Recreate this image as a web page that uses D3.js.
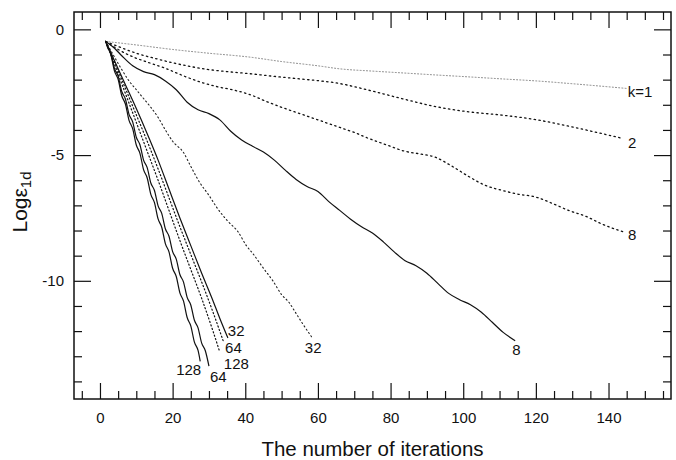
<!DOCTYPE html>
<html>
<head>
<meta charset="utf-8">
<script src="https://cdn.jsdelivr.net/npm/d3@7"></script>
<style>
  html, body { margin: 0; padding: 0; background: #fff; }
  svg { display: block; font-family: 'Liberation Sans', Arial, Helvetica, sans-serif; }
</style>
</head>
<body>
<svg id="chart" width="676" height="460"></svg>
<script>
// ---------------- data ----------------
const xMajorTicks = [0, 20, 40, 60, 80, 100, 120, 140];
const yMajorTicks = [0, -5, -10];

// dotted curves
const k1X = [1.6, 10, 20, 30, 41, 50, 60, 66, 75, 83, 92, 101.5, 110.6, 120, 129, 138, 145];
const k1Y = [-0.48, -0.62, -0.8, -0.95, -1.1, -1.28, -1.45, -1.57, -1.66, -1.73, -1.81, -1.89, -1.97, -2.05, -2.15, -2.26, -2.35];

const k2X = [1.6, 5, 10, 15, 20, 25, 30, 35, 41, 48, 55, 60, 65, 74, 83, 92, 101.5, 110.6, 120, 129, 138, 144];
const k2Y = [-0.48, -0.68, -0.95, -1.15, -1.33, -1.48, -1.6, -1.68, -1.76, -1.87, -1.97, -2.04, -2.13, -2.42, -2.75, -3.06, -3.28, -3.41, -3.59, -3.85, -4.14, -4.34];

const k8dX = [1.6, 5, 9, 14, 18, 23, 27.5, 32, 37, 41, 46, 50, 55, 60, 66, 70, 74, 79, 84, 88, 92, 97, 101.5, 106, 110.6, 115, 120, 125, 129, 134, 138, 144];
const k8dY = [-0.48, -0.8, -1.09, -1.35, -1.55, -1.85, -2.09, -2.27, -2.42, -2.58, -2.88, -3.1, -3.35, -3.6, -3.9, -4.1, -4.34, -4.6, -4.85, -4.95, -5.07, -5.45, -5.85, -6.2, -6.4, -6.55, -6.67, -6.95, -7.2, -7.45, -7.73, -8.05];

const k32dX = [1.6, 4, 6, 8, 10, 12, 14, 16, 18, 20, 23, 25, 27.5, 30, 32, 35, 38, 40.3, 42, 45, 47.6, 50, 52, 54, 56, 58.6];
const k32dY = [-0.48, -1.1, -1.6, -2.05, -2.4, -2.75, -3.1, -3.5, -4.0, -4.45, -4.9, -5.45, -6.1, -6.6, -7.05, -7.6, -8.05, -8.6, -8.9, -9.5, -10.0, -10.55, -10.85, -11.3, -11.75, -12.3];

const k64dX = [1.6, 4, 7, 10, 13, 16, 19, 22, 25, 28, 31, 33.9];
const k64dY = [-0.48, -1.3, -2.35, -3.4, -4.45, -5.55, -6.7, -7.85, -8.95, -10.05, -11.2, -12.38];

const k128dX = [1.6, 4, 7, 10, 13, 16, 19, 22, 25, 28, 31, 33];
const k128dY = [-0.48, -1.4, -2.55, -3.7, -4.85, -6.0, -7.2, -8.4, -9.55, -10.7, -11.95, -12.84];

// solid curves
const k8sX = [1.6, 4, 6, 9, 12, 15, 18, 21, 24, 27, 30, 33, 36, 39, 42, 45, 48, 51, 54, 57, 60, 63, 66, 69, 72, 75, 78, 81, 84, 87, 90, 93, 96, 99, 102, 105, 108, 111, 114.3];
const k8sY = [-0.48, -0.75, -1.05, -1.45, -1.68, -1.8, -2.05, -2.4, -2.9, -3.2, -3.35, -3.6, -4.05, -4.4, -4.65, -4.88, -5.2, -5.6, -5.97, -6.25, -6.45, -6.85, -7.2, -7.55, -7.85, -8.1, -8.45, -8.85, -9.2, -9.4, -9.7, -10.1, -10.5, -10.75, -10.95, -11.25, -11.65, -12.05, -12.38];

const k32sX = [1.6, 4, 7, 10, 13, 16, 19, 22, 25, 28, 31, 33, 35.2];
const k32sY = [-0.48, -1.25, -2.2, -3.15, -4.15, -5.2, -6.35, -7.5, -8.6, -9.7, -10.75, -11.5, -12.27];

const k64sX = [1.6, 2, 3, 4, 5, 6, 7, 8, 9, 10, 11, 12, 13, 14, 15, 16, 17, 18, 19, 20, 21, 22, 23, 24, 25, 26, 27, 28, 29, 30];
const k64sY = [-0.48, -0.65, -0.95, -1.56, -1.86, -2.47, -2.77, -3.38, -3.68, -4.29, -4.59, -5.2, -5.5, -6.11, -6.41, -7.02, -7.32, -7.93, -8.23, -8.84, -9.14, -9.75, -10.05, -10.66, -10.96, -11.57, -11.87, -12.48, -12.78, -13.39];

const k128sX = [1.6, 2, 3, 4, 5, 6, 7, 8, 9, 10, 11, 12, 13, 14, 15, 16, 17, 18, 19, 20, 21, 22, 23, 24, 25, 26, 27, 27.6];
const k128sY = [-0.48, -0.68, -1.01, -1.66, -1.99, -2.64, -2.97, -3.62, -3.95, -4.6, -4.93, -5.58, -5.91, -6.56, -6.89, -7.54, -7.87, -8.52, -8.85, -9.5, -9.83, -10.48, -10.81, -11.46, -11.79, -12.44, -12.77, -13.2];

const curveLabels = ["k=1", "2", "8", "8", "32", "32", "64", "128", "64", "128"];

// ---------------- drawing ----------------
const svg = d3.select("#chart");
const plotL = 74, plotR = 671, plotT = 12, plotB = 399;

const x = d3.scaleLinear().domain([-7.15, 157.2]).range([plotL, plotR]);
const y = d3.scaleLinear().domain([0.69, -14.7]).range([plotT, plotB]);

const xMinor = d3.range(-5, 156, 5).filter(v => !xMajorTicks.includes(v));
const yMinor = d3.range(0, -15, -1).filter(v => !yMajorTicks.includes(v));

function styleAxis(g) {
  g.select(".domain").remove();
  g.selectAll(".tick line").attr("stroke", "#111").attr("stroke-width", 1.2);
  g.selectAll(".tick text").attr("fill", "#111").attr("font-size", 15)
    .attr("font-family", "'Liberation Sans', Arial, Helvetica, sans-serif");
}

// bottom
svg.append("g").attr("transform", `translate(0,${plotB})`)
  .call(d3.axisBottom(x).tickValues(xMajorTicks).tickSize(-16).tickPadding(13).tickFormat(d => String(d)))
  .call(styleAxis);
svg.append("g").attr("transform", `translate(0,${plotB})`)
  .call(d3.axisBottom(x).tickValues(xMinor).tickSize(-8).tickFormat(""))
  .call(styleAxis);
// top
svg.append("g").attr("transform", `translate(0,${plotT})`)
  .call(d3.axisTop(x).tickValues(xMajorTicks).tickSize(-16).tickFormat(""))
  .call(styleAxis);
svg.append("g").attr("transform", `translate(0,${plotT})`)
  .call(d3.axisTop(x).tickValues(xMinor).tickSize(-8).tickFormat(""))
  .call(styleAxis);
// left
svg.append("g").attr("transform", `translate(${plotL},0)`)
  .call(d3.axisLeft(y).tickValues(yMajorTicks).tickSize(-17).tickPadding(10).tickFormat(d => String(d)))
  .call(styleAxis);
svg.append("g").attr("transform", `translate(${plotL},0)`)
  .call(d3.axisLeft(y).tickValues(yMinor).tickSize(-8).tickFormat(""))
  .call(styleAxis);
// right
svg.append("g").attr("transform", `translate(${plotR},0)`)
  .call(d3.axisRight(y).tickValues(yMajorTicks).tickSize(-17).tickFormat(""))
  .call(styleAxis);
svg.append("g").attr("transform", `translate(${plotR},0)`)
  .call(d3.axisRight(y).tickValues(yMinor).tickSize(-8).tickFormat(""))
  .call(styleAxis);

// frame
svg.append("rect").attr("x", plotL).attr("y", plotT)
  .attr("width", plotR - plotL).attr("height", plotB - plotT)
  .attr("fill", "none").attr("stroke", "#111").attr("stroke-width", 1.5);

// axis titles
svg.append("text").attr("x", (plotL + plotR) / 2).attr("y", 456)
  .attr("text-anchor", "middle").attr("font-size", 20.5).attr("fill", "#111")
  .text("The number of iterations");

const yt = svg.append("text").attr("transform", "translate(27,202) rotate(-90)")
  .attr("text-anchor", "middle").attr("font-size", 21).attr("fill", "#111");
yt.append("tspan").text("Log\u03b5");
yt.append("tspan").attr("font-size", 15).attr("dy", 4).text("1d");

// series
const zip = (xs, ys) => xs.map((v, i) => [v, ys[i]]);
const series = [
  { xs: k1X,   ys: k1Y,   label: curveLabels[0] },
  { xs: k2X,   ys: k2Y,   label: curveLabels[1] },
  { xs: k8dX,  ys: k8dY,  label: curveLabels[2] },
  { xs: k8sX,  ys: k8sY,  label: curveLabels[3] },
  { xs: k32dX, ys: k32dY, label: curveLabels[4] },
  { xs: k32sX, ys: k32sY, label: curveLabels[5] },
  { xs: k64dX, ys: k64dY, label: curveLabels[6] },
  { xs: k128dX,ys: k128dY,label: curveLabels[7] },
  { xs: k64sX, ys: k64sY, label: curveLabels[8] },
  { xs: k128sX,ys: k128sY,label: curveLabels[9] }
];
// styles and label offsets (pixels) per series, same order
const styles = [
  { stroke: "#777", width: 0.9, dash: "1,2.2" },
  { stroke: "#111", width: 1.3, dash: "1.4,3.4" },
  { stroke: "#111", width: 1.3, dash: "1.4,3.4" },
  { stroke: "#111", width: 1.2, dash: null },
  { stroke: "#222", width: 1.1, dash: "1.2,2.8" },
  { stroke: "#111", width: 1.2, dash: null },
  { stroke: "#111", width: 1.2, dash: "1.2,2.4" },
  { stroke: "#111", width: 1.2, dash: "1.2,2.4" },
  { stroke: "#111", width: 1.2, dash: null },
  { stroke: "#111", width: 1.2, dash: null }
];
const labelOffsets = [
  { dx: 1, dy: 9, anchor: "start" },
  { dx: 5, dy: 10, anchor: "start" },
  { dx: 5, dy: 8, anchor: "start" },
  { dx: -3, dy: 14, anchor: "start" },
  { dx: -8, dy: 14, anchor: "start" },
  { dx: 0, dy: -2, anchor: "start" },
  { dx: 2, dy: 12, anchor: "start" },
  { dx: 4, dy: 17, anchor: "start" },
  { dx: 1, dy: 15.5, anchor: "start" },
  { dx: 1, dy: 14, anchor: "end" }
];

const line = d3.line().x(d => x(d[0])).y(d => y(d[1])).curve(d3.curveMonotoneX);

series.forEach((s, i) => {
  const pts = zip(s.xs, s.ys);
  const st = styles[i];
  const p = svg.append("path").datum(pts).attr("d", line)
    .attr("fill", "none").attr("stroke", st.stroke).attr("stroke-width", st.width)
    .attr("stroke-linejoin", "round");
  if (st.dash) p.attr("stroke-dasharray", st.dash).attr("stroke-linecap", "round");
  const end = pts[pts.length - 1];
  const off = labelOffsets[i];
  svg.append("text").attr("x", x(end[0]) + off.dx).attr("y", y(end[1]) + off.dy)
    .attr("text-anchor", off.anchor).attr("font-size", 15).attr("fill", "#111")
    .text(s.label);
});
</script>
</body>
</html>
